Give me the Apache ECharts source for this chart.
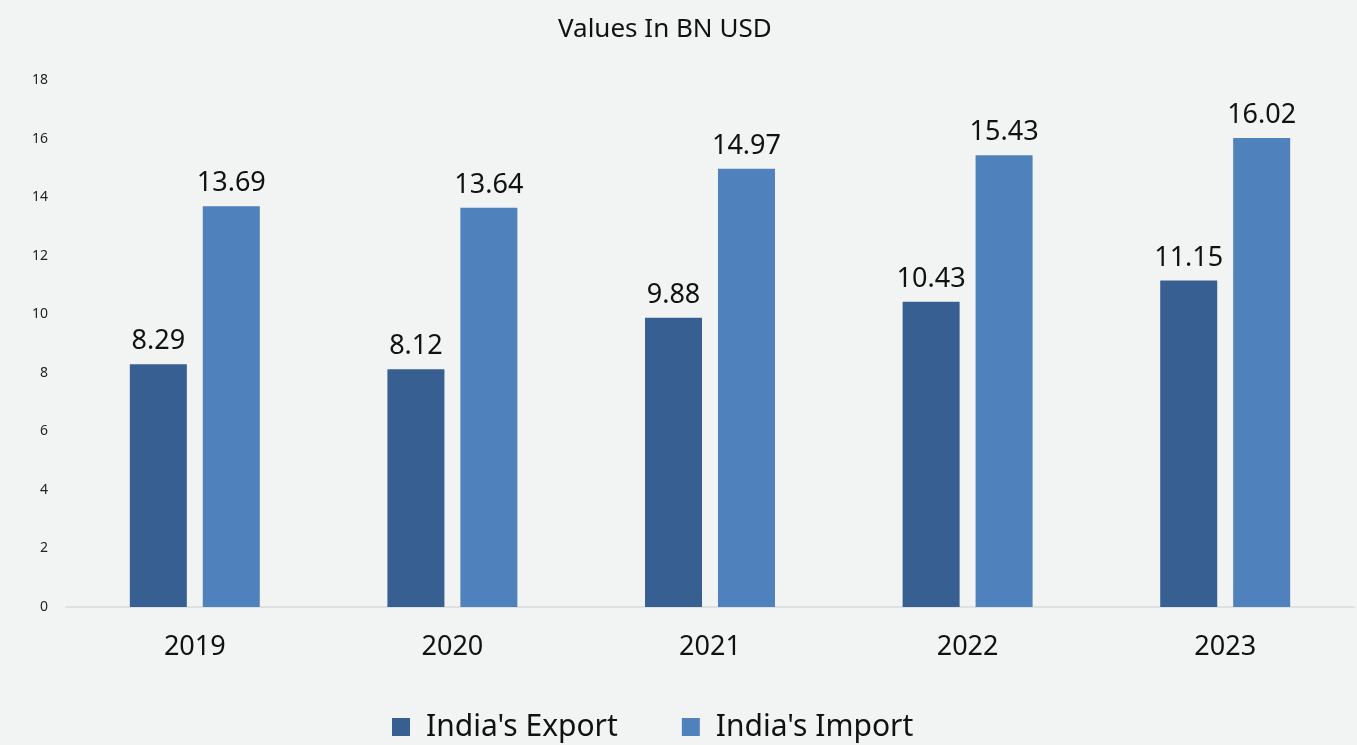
<!DOCTYPE html>
<html>
<head>
<meta charset="utf-8">
<script src="https://cdn.jsdelivr.net/npm/echarts@6/dist/echarts.min.js"></script>
<style>
  html, body { margin: 0; padding: 0; background: #f2f4f4; }
  #main { width: 1357px; height: 745px; }
</style>
</head>
<body>
<div id="main"></div>
<script>
var years = ['2019', '2020', '2021', '2022', '2023'];
var exportVals = [8.29, 8.12, 9.88, 10.43, 11.15];
var importVals = [13.69, 13.64, 14.97, 15.43, 16.02];
var seriesNames = ["India's Export", "India's Import"];

var font = 'Noto Sans';
var chart = echarts.init(document.getElementById('main'));
chart.setOption({
  backgroundColor: '#f2f4f4',
  title: {
    text: 'Values In BN USD',
    left: 553,
    top: 12,
    textStyle: { fontFamily: font, fontSize: 26, fontWeight: 'normal', color: '#111' }
  },
  legend: {
    bottom: -2,
    left: 387,
    itemWidth: 18,
    itemHeight: 18,
    itemGap: 64,
    icon: 'rect',
    textStyle: { fontFamily: font, fontSize: 30, color: '#111', padding: [0, 0, 0, 11] },
    data: seriesNames
  },
  grid: { left: 66, right: 3, top: 80, bottom: 138 },
  xAxis: {
    type: 'category',
    data: years,
    axisTick: { show: false },
    axisLine: { lineStyle: { color: '#d9d9d9', width: 1.5 } },
    axisLabel: { fontFamily: font, fontSize: 27, color: '#111', margin: 27 }
  },
  yAxis: {
    type: 'value',
    min: 0, max: 18, interval: 2,
    axisLine: { show: false },
    axisTick: { show: false },
    splitLine: { show: false },
    axisLabel: { fontFamily: font, fontSize: 14, color: '#222', margin: 18 }
  },
  series: [
    {
      name: seriesNames[0], type: 'bar', data: exportVals,
      barWidth: 57, barGap: '28%',
      itemStyle: { color: '#385f91' },
      label: { show: true, position: 'top', distance: 9, fontFamily: font, fontSize: 27, color: '#111' }
    },
    {
      name: seriesNames[1], type: 'bar', data: importVals,
      barWidth: 57,
      itemStyle: { color: '#4f81bd' },
      label: { show: true, position: 'top', distance: 9, fontFamily: font, fontSize: 27, color: '#111' }
    }
  ]
});
</script>
</body>
</html>
